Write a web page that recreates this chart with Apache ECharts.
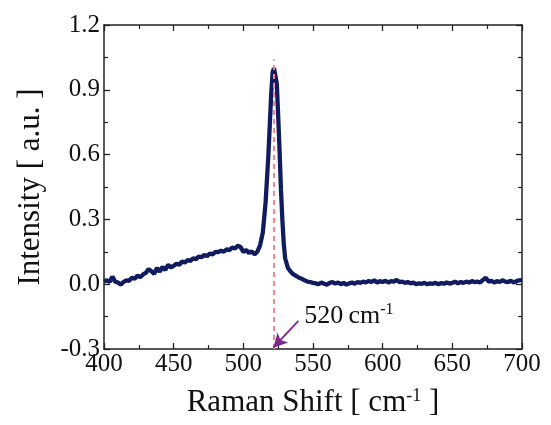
<!DOCTYPE html>
<html>
<head>
<meta charset="utf-8">
<script src="https://cdn.jsdelivr.net/npm/echarts@6/dist/echarts.min.js"></script>
<style>html,body{margin:0;padding:0;background:#fff}#c{width:551px;height:425px}</style>
</head>
<body>
<div id="c"></div>
<script>
// Raman shift (cm^-1)
const shift = [
400,402,404,406,408,410,412,414,416,418,420,422,424,426,428,430,432,434,436,438,
440,442,444,446,448,450,452,454,456,458,460,462,464,466,468,470,472,474,476,478,
480,482,484,486,488,490,492,494,496,498,500,502,504,506,508,510,512,514,516,518,
519,520,521,522,523,524,525,526,527,528,529,530,532,534,536,538,540,542,544,546,
548,550,552,554,556,558,560,562,564,566,568,570,572,574,576,578,580,582,584,586,
588,590,592,594,596,598,600,602,604,606,608,610,612,614,616,618,620,622,624,626,
628,630,632,634,636,638,640,642,644,646,648,650,652,654,656,658,660,662,664,666,
668,670,672,674,676,678,680,682,684,686,688,690,692,694,696,698,700];
// Intensity (a.u.)
const intensity = [
0.012,0.018,0.010,0.035,0.012,0.008,-0.002,0.010,0.018,0.015,0.030,0.025,0.040,0.032,0.045,0.052,0.070,0.060,0.048,0.075,
0.058,0.080,0.066,0.090,0.078,0.085,0.095,0.090,0.105,0.100,0.112,0.108,0.120,0.115,0.128,0.125,0.135,0.130,0.142,0.138,
0.150,0.148,0.155,0.150,0.162,0.158,0.170,0.165,0.178,0.172,0.150,0.158,0.145,0.152,0.138,0.150,0.180,0.240,0.380,0.600,
0.740,0.880,0.980,1.000,1.000,0.930,0.780,0.620,0.440,0.300,0.190,0.120,0.075,0.058,0.045,0.038,0.030,0.025,0.018,0.012,
0.010,0.006,0.004,0.000,0.008,0.002,-0.002,0.006,0.010,0.003,0.008,0.000,0.006,-0.002,0.004,0.008,0.002,0.010,0.006,0.012,
0.008,0.015,0.010,0.018,0.008,0.014,0.010,0.016,0.008,0.014,0.012,0.020,0.010,0.012,0.006,0.010,0.004,0.008,0.000,0.004,
0.002,0.006,0.000,0.004,0.002,0.006,0.000,0.005,0.002,0.008,0.003,0.006,0.012,0.004,0.010,0.006,0.012,0.008,0.014,0.010,
0.012,0.008,0.020,0.030,0.012,0.016,0.008,0.014,0.010,0.018,0.012,0.010,0.016,0.008,0.014,0.018,0.020];
// annotations
const peakLine = [[522, -0.3], [522, 1.04]];
const arrowLine = [[539.5, -0.17], [521.5, -0.294]];
const peakLabelPos = [[543, -0.147]];
const xTicks = [400, 700, 50];
const yTicks = [-0.3, 1.2, 0.3];

const FONT = '"Liberation Serif", "Times New Roman", serif';
const chart = echarts.init(document.getElementById('c'), null, {renderer: 'canvas'});
const axisCommon = {
  axisLine: {show: true, onZero: false, lineStyle: {color: '#222', width: 1.5}},
  axisTick: {show: true, inside: true, length: 6, lineStyle: {color: '#222', width: 1.3}},
  minorTick: {show: true, splitNumber: 2, length: 4, lineStyle: {color: '#222', width: 1.2}},
  splitLine: {show: false},
  minorSplitLine: {show: false}
};
chart.setOption({
  animation: false,
  grid: {left: 104, right: 29, top: 25, bottom: 76},
  xAxis: [
    Object.assign({}, axisCommon, {
      type: 'value', min: xTicks[0], max: xTicks[1], interval: xTicks[2], position: 'bottom',
      axisLabel: {color: '#111', fontFamily: FONT, fontSize: 25, margin: 3},
      name: '{n|Raman Shift [ cm}{s|-1}{n| ]}', nameLocation: 'middle', nameGap: 38,
      nameTextStyle: {rich: {n: {fontFamily: FONT, fontSize: 31, color: '#111'}, s: {fontFamily: FONT, fontSize: 18, color: '#111', verticalAlign: 'top', padding: [0,0,14,0]}}}
    }),
    Object.assign({}, axisCommon, {
      type: 'value', min: xTicks[0], max: xTicks[1], interval: xTicks[2], position: 'top',
      axisLabel: {show: false}
    })
  ],
  yAxis: [
    Object.assign({}, axisCommon, {
      type: 'value', min: yTicks[0], max: yTicks[1], interval: yTicks[2], position: 'left',
      axisLabel: {color: '#111', fontFamily: FONT, fontSize: 25, margin: 4, formatter: v => v.toFixed(1)},
      name: 'Intensity [ a.u. ]', nameLocation: 'middle', nameGap: 58, nameRotate: 90,
      nameTextStyle: {fontFamily: FONT, fontSize: 31, color: '#111'}
    }),
    Object.assign({}, axisCommon, {
      type: 'value', min: yTicks[0], max: yTicks[1], interval: yTicks[2], position: 'right',
      axisLabel: {show: false}
    })
  ],
  series: [
    {
      type: 'line', xAxisIndex: 0, yAxisIndex: 0, z: 2,
      data: shift.map((x, i) => [x, intensity[i]]),
      showSymbol: false, symbol: 'none',
      lineStyle: {color: '#111c60', width: 4.3}
    },
    {
      type: 'line', xAxisIndex: 0, yAxisIndex: 0, z: 5, data: [], silent: true,
      markLine: {
        silent: true, animation: false, symbol: ['none', 'none'],
        label: {show: false},
        data: [
          [{coord: peakLine[0], lineStyle: {color: '#f08a8e', width: 2, type: [5, 4]}}, {coord: peakLine[1]}],
          [{coord: arrowLine[0], symbol: 'none', lineStyle: {color: '#7a2a8a', width: 1.8, type: 'solid'}}, {coord: arrowLine[1], symbol: 'arrow', symbolSize: [11, 14]}]
        ]
      }
    },
    {
      type: 'scatter', xAxisIndex: 0, yAxisIndex: 0, z: 6, silent: true,
      data: peakLabelPos,
      symbol: 'circle', symbolSize: 2, itemStyle: {color: 'rgba(255,255,255,0)'},
      labelLayout: {hideOverlap: false},
      label: {show: true, position: 'right', distance: 0, opacity: 1, formatter: '{n|520\u2009cm}{s|-1}',
        rich: {n: {fontFamily: FONT, fontSize: 26, color: '#111'}, s: {fontFamily: FONT, fontSize: 16, color: '#111', verticalAlign: 'top', padding: [0,0,12,0]}}}
    }
  ]
});
</script>
</body>
</html>
